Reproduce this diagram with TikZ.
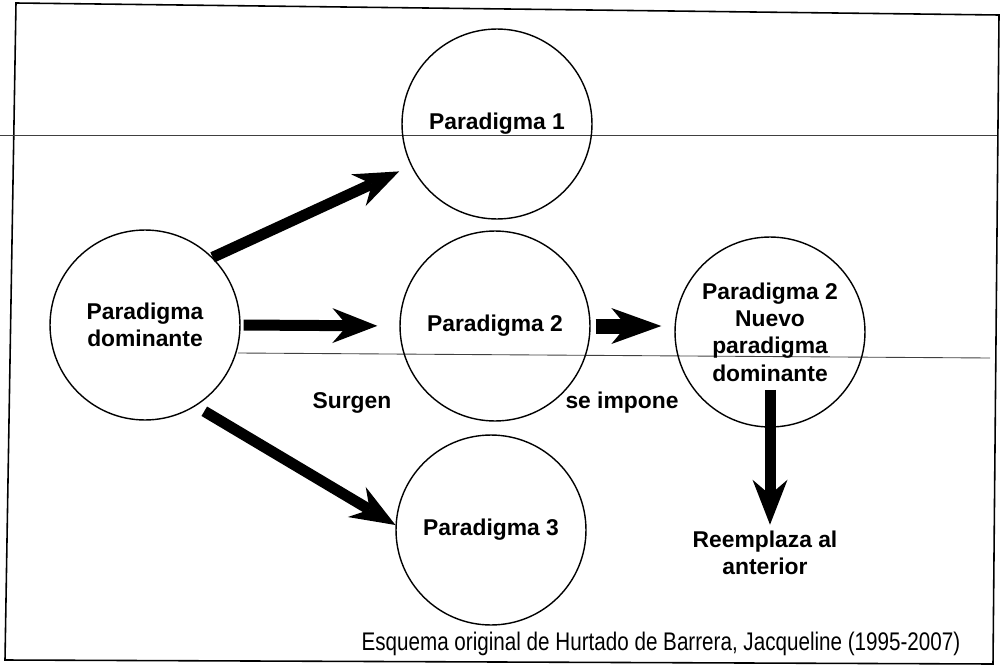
\documentclass[tikz,border=0pt]{standalone}
\usepackage{fontspec}
\setmainfont{Liberation Sans}
\usetikzlibrary{arrows.meta,positioning,calc}

\tikzset{
    paradigma/.style={draw, circle, line width=0.8pt, minimum size=3.8cm, inner sep=0pt,
        align=center, font=\fontsize{13}{15.6}\selectfont\bfseries},
    flecha/.style={line width=0.22cm,
        -{Stealth[length=0.9cm, width=0.7cm, inset=0.3cm, line width=0pt]}},
    etiqueta/.style={align=center, font=\fontsize{13}{15.6}\selectfont\bfseries},
}

\begin{document}
\begin{tikzpicture}[x=0.02cm, y=-0.02cm]
                \useasboundingbox (0,0) rectangle (1001,666);
                % Marco
                \draw[line width=0.9pt] (16,3) -- (999,15) -- (993,664) -- (5,660) -- cycle;
                \draw[line width=0.5pt, black!75] (0,135) -- (997,135);
                \draw[line width=0.5pt, black!75] (238,353) -- (990,358);
                % Paradigmas
                \node[paradigma] (dom) at (145,325) {Paradigma\\dominante};
                \foreach \i/\x/\y in {1/497/124, 2/495/326, 3/491/530} {
                    \node[paradigma] (p\i) at (\x,\y) {Paradigma \i};
                }
                \node[paradigma] (nuevo) at (770,332) {Paradigma 2\\Nuevo\\paradigma\\dominante};
                % Etiquetas
                \node[etiqueta] (surgen) at (352,403) {Surgen};
                \node[etiqueta] (impone) at (622,403) {se impone};
                \node[etiqueta] (reemplaza) at (765,553) {Reemplaza al\\anterior};
                \node[font=\fontsize{14.5}{17}\selectfont] (fuente) at (661,644)
                    {\scalebox{0.81}[1]{Esquema original de Hurtado de Barrera, Jacqueline (1995-2007)}};
                % Flechas
                \draw[flecha, shorten >=0.26cm] (dom.45) -- (p1.206);
                \draw[flecha, shorten <=0.06cm, shorten >=0.44cm] (dom.east) -- (p2.west);
                \draw[flecha, shorten <=0.2cm] (dom.-58) -- (p3.177);
                \draw[flecha, line width=0.3cm, -{Stealth[length=1cm, width=0.72cm, inset=0.3cm, line width=0pt]},
                    shorten <=0.1cm, shorten >=0.26cm] (p2.east) -- (p2.east -| nuevo.west);
                \draw[flecha, shorten <=1.16cm] (nuevo.center) -- (nuevo.center |- reemplaza.north);
            \end{tikzpicture}
\end{document}
